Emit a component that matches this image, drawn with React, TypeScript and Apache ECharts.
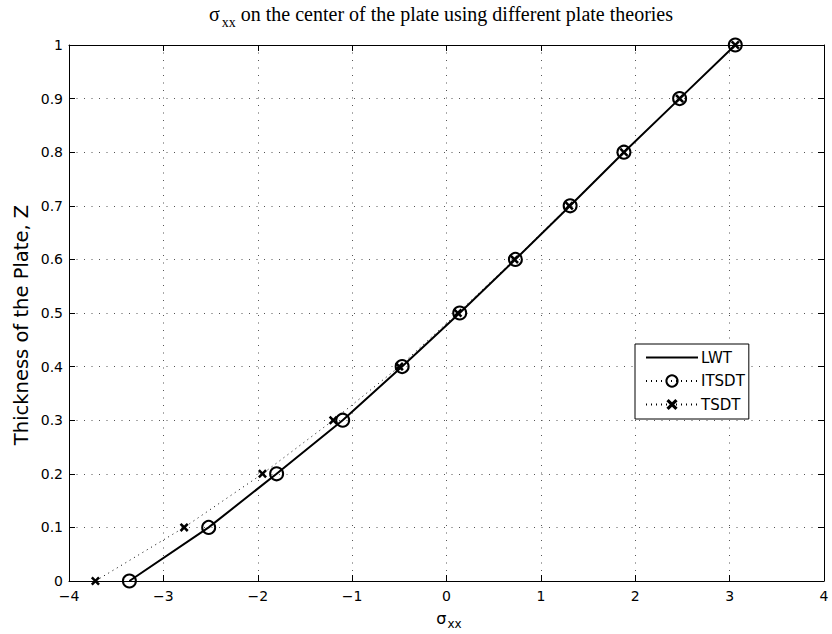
import React, { useEffect, useRef } from "react";
import * as echarts from "echarts";

// Thickness coordinate through the plate
const zLevels = [0, 0.1, 0.2, 0.3, 0.4, 0.5, 0.6, 0.7, 0.8, 0.9, 1.0];
// sigma_xx at the centre of the plate for each theory
const lwtValues = [-3.36, -2.52, -1.8, -1.1, -0.47, 0.14, 0.73, 1.31, 1.88, 2.47, 3.06];
const itsdtValues = [-3.36, -2.52, -1.8, -1.1, -0.47, 0.14, 0.73, 1.31, 1.88, 2.47, 3.06];
const tsdtValues = [-3.72, -2.78, -1.95, -1.2, -0.5, 0.12, 0.72, 1.3, 1.88, 2.47, 3.06];

const seriesNames = ["LWT", "ITSDT", "TSDT"];

const SANS = "'DejaVu Sans', Verdana, sans-serif";
const SERIF = "'Liberation Serif', 'Times New Roman', serif";

// bold "x" marker
const crossPath =
  "path://M0,2 L2,0 L5,3 L8,0 L10,2 L7,5 L10,8 L8,10 L5,7 L2,10 L0,8 L3,5 Z";

function pairs(xs: number[]) {
  return xs.map((x, i) => [x, zLevels[i]]);
}

export default function App() {
  const ref = useRef<HTMLDivElement>(null);

  useEffect(() => {
    if (!ref.current) return;
    const chart = echarts.init(ref.current, undefined, { renderer: "svg" });

    const gridLine = { show: true, lineStyle: { color: "#555", width: 1, type: [1, 6.5] as any } };
    const frameLine = { show: true, onZero: false, lineStyle: { color: "#000", width: 1 } };
    const innerTick = { show: true, inside: true, length: 6, lineStyle: { color: "#000" } };

    chart.setOption({
      animation: false,
      backgroundColor: "#fff",
      grid: { left: 69, right: 8, top: 45, bottom: 53, containLabel: false },
      legend: {
        data: [
          { name: seriesNames[0], itemStyle: { color: "rgba(0,0,0,0)", borderWidth: 0 } },
          seriesNames[1],
          seriesNames[2],
        ],
        orient: "vertical",
        left: 635,
        top: 344,
        itemWidth: 52,
        itemHeight: 14,
        itemGap: 8.5,
        padding: [6, 4, 7, 10],
        backgroundColor: "#fff",
        borderColor: "#000",
        borderWidth: 1,
        borderRadius: 0,
        textStyle: { fontFamily: SANS, fontSize: 15, color: "#000", padding: [0, 0, 0, -2] },
      },
      graphic: [
        {
          type: "text",
          x: 441,
          y: 14,
          style: {
            text: "{s|σ}{sub|xx}{t| on the center of the plate using different plate theories}",
            align: "center",
            verticalAlign: "middle",
            rich: {
              s: { fontFamily: SERIF, fontSize: 20, color: "#000", lineHeight: 24 },
              sub: {
                fontFamily: SERIF,
                fontSize: 14,
                color: "#000",
                lineHeight: 24,
                padding: [16, 0, 0, 2],
              },
              t: { fontFamily: SERIF, fontSize: 20, color: "#000", lineHeight: 24 },
            },
          },
        },
        {
          type: "text",
          x: 449,
          y: 618,
          style: {
            text: "{s|σ}{sub|xx}",
            align: "center",
            verticalAlign: "middle",
            rich: {
              s: { fontFamily: SANS, fontSize: 16, color: "#000", lineHeight: 18 },
              sub: { fontFamily: SANS, fontSize: 12, color: "#000", lineHeight: 18, padding: [12, 0, 0, 1] },
            },
          },
        },
        {
          type: "text",
          x: 21,
          y: 325,
          rotation: Math.PI / 2,
          style: {
            text: "Thickness of the Plate, Z",
            align: "center",
            verticalAlign: "middle",
            fontFamily: SANS,
            fontSize: 19.5,
            fill: "#000",
          },
        },
      ],
      xAxis: [
        {
          type: "value",
          min: -4,
          max: 4,
          interval: 1,
          position: "bottom",
          axisLine: frameLine,
          axisTick: innerTick,
          axisLabel: {
            fontFamily: SANS,
            fontSize: 14,
            color: "#000",
            margin: 8,
            formatter: (v: number) => String(v).replace("-", "\u2212"),
          },
          splitLine: gridLine,
        },
        {
          type: "value",
          min: -4,
          max: 4,
          interval: 1,
          position: "top",
          axisLine: frameLine,
          axisTick: innerTick,
          axisLabel: { show: false },
          splitLine: { show: false },
        },
      ],
      yAxis: [
        {
          type: "value",
          min: 0,
          max: 1,
          interval: 0.1,
          position: "left",
          axisLine: frameLine,
          axisTick: innerTick,
          axisLabel: { fontFamily: SANS, fontSize: 14, color: "#000", margin: 6 },
          splitLine: gridLine,
        },
        {
          type: "value",
          min: 0,
          max: 1,
          interval: 0.1,
          position: "right",
          axisLine: frameLine,
          axisTick: innerTick,
          axisLabel: { show: false },
          splitLine: { show: false },
        },
      ],
      series: [
        {
          name: seriesNames[0],
          type: "line",
          data: pairs(lwtValues),
          showSymbol: false,
          symbol: "none",
          lineStyle: { color: "#000", width: 2, type: "solid" },
          itemStyle: { color: "#000" },
          z: 3,
        },
        {
          name: seriesNames[1],
          type: "line",
          data: pairs(itsdtValues),
          symbol: "circle",
          symbolSize: 13,
          lineStyle: { color: "#000", width: 1, type: [1, 4] },
          itemStyle: { color: "rgba(0,0,0,0)", borderColor: "#000", borderWidth: 2 },
          z: 4,
        },
        {
          name: seriesNames[2],
          type: "line",
          data: pairs(tsdtValues),
          symbol: crossPath,
          symbolSize: 9,
          lineStyle: { color: "#000", width: 1, type: [1, 4] },
          itemStyle: { color: "#000" },
          z: 4,
        },
      ],
    });

    return () => chart.dispose();
  }, []);

  return (
    <div
      ref={ref}
      style={{ position: "fixed", left: 0, top: 0, width: 832, height: 634, background: "#fff" }}
    />
  );
}
